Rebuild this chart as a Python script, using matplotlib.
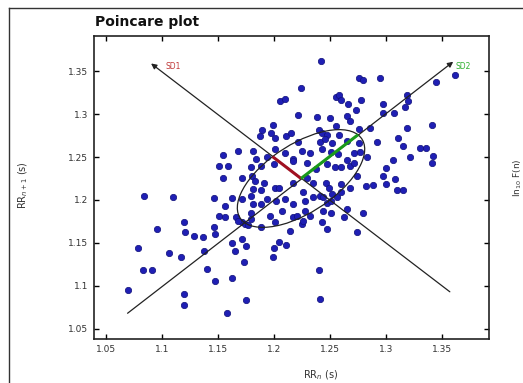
import matplotlib
matplotlib.use("Agg")
import matplotlib.pyplot as plt
from matplotlib.patches import Ellipse
from matplotlib.lines import Line2D
import numpy as np

rr_n = [
    1.242, 1.362, 1.345, 1.276, 1.279, 1.295, 1.224, 1.205, 1.210, 1.255, 1.258, 1.260, 1.266, 1.278,
    1.273, 1.297, 1.319, 1.320, 1.317, 1.221, 1.238, 1.250, 1.265, 1.268, 1.297, 1.307, 1.199, 1.189,
    1.197, 1.187, 1.211, 1.215, 1.240, 1.243, 1.247, 1.255, 1.258, 1.276, 1.286, 1.319, 1.341, 1.311,
    1.201, 1.221, 1.241, 1.245, 1.252, 1.265, 1.276, 1.292,
    1.154, 1.168, 1.181, 1.184, 1.194, 1.201, 1.210, 1.217, 1.225, 1.232, 1.243, 1.251, 1.257, 1.265,
    1.271, 1.277, 1.283, 1.306, 1.321, 1.330, 1.336, 1.342, 1.341, 1.315,
    1.151, 1.159, 1.179, 1.188, 1.200, 1.217, 1.229, 1.237, 1.247, 1.254, 1.260, 1.268, 1.271, 1.300,
    1.154, 1.171, 1.180, 1.183, 1.191, 1.181, 1.188, 1.201, 1.204, 1.217, 1.229, 1.235, 1.246, 1.249,
    1.260, 1.268, 1.274, 1.282, 1.288, 1.297, 1.300, 1.308, 1.310, 1.315,
    1.084, 1.110, 1.146, 1.162, 1.171, 1.179, 1.181, 1.188, 1.194, 1.202, 1.210, 1.217, 1.226, 1.228,
    1.235, 1.241, 1.244, 1.247, 1.252, 1.256, 1.260, 1.251,
    1.156, 1.179, 1.196, 1.207, 1.217, 1.220, 1.228, 1.232, 1.244, 1.251, 1.265, 1.279, 1.151, 1.156,
    1.166, 1.179, 1.171, 1.174,
    1.095, 1.119, 1.120, 1.128, 1.136, 1.146, 1.147, 1.168, 1.177, 1.188, 1.201, 1.214, 1.225, 1.226,
    1.243, 1.247, 1.262, 1.274,
    1.078, 1.106, 1.117, 1.137, 1.162, 1.165, 1.171, 1.175, 1.173, 1.083, 1.091, 1.140, 1.147, 1.162,
    1.199, 1.200, 1.204, 1.211, 1.240, 1.069, 1.119, 1.119, 1.175, 1.241, 1.158,
]
rr_n1 = [
    1.362, 1.345, 1.337, 1.342, 1.340, 1.342, 1.330, 1.315, 1.318, 1.320, 1.322, 1.316, 1.312, 1.317,
    1.305, 1.312, 1.322, 1.315, 1.308, 1.299, 1.297, 1.296, 1.298, 1.292, 1.301, 1.301, 1.287, 1.281,
    1.278, 1.275, 1.274, 1.278, 1.281, 1.278, 1.276, 1.286, 1.276, 1.283, 1.284, 1.284, 1.287, 1.272,
    1.2725, 1.267, 1.267, 1.2705, 1.2667, 1.2686, 1.2659, 1.2674,
    1.252, 1.257, 1.257, 1.248, 1.250, 1.259, 1.255, 1.248, 1.257, 1.255, 1.259, 1.256, 1.253, 1.247,
    1.255, 1.256, 1.250, 1.247, 1.250, 1.260, 1.260, 1.251, 1.243, 1.263,
    1.240, 1.240, 1.238, 1.240, 1.242, 1.245, 1.243, 1.236, 1.242, 1.238, 1.238, 1.240, 1.243, 1.237,
    1.226, 1.226, 1.228, 1.222, 1.220, 1.213, 1.212, 1.214, 1.214, 1.220, 1.226, 1.220, 1.220, 1.214,
    1.218, 1.214, 1.228, 1.216, 1.217, 1.228, 1.219, 1.224, 1.212, 1.212,
    1.205, 1.204, 1.202, 1.202, 1.201, 1.205, 1.195, 1.195, 1.201, 1.199, 1.201, 1.195, 1.209, 1.199,
    1.203, 1.205, 1.203, 1.197, 1.207, 1.203, 1.209, 1.199,
    1.193, 1.185, 1.181, 1.187, 1.180, 1.181, 1.187, 1.181, 1.187, 1.185, 1.189, 1.185, 1.181, 1.180,
    1.180, 1.178, 1.174, 1.172,
    1.166, 1.174, 1.163, 1.158, 1.157, 1.168, 1.160, 1.176, 1.171, 1.168, 1.174, 1.164, 1.172, 1.176,
    1.174, 1.166, 1.180, 1.163,
    1.144, 1.138, 1.134, 1.140, 1.150, 1.140, 1.154, 1.146, 1.128, 1.118, 1.118, 1.119, 1.106, 1.109,
    1.134, 1.144, 1.151, 1.148, 1.118, 1.095, 1.091, 1.078, 1.083, 1.085, 1.068,
]

center = (1.224, 1.225)
sd1 = 0.036
sd2 = 0.072
sd1_line = ([1.090, 1.357], [1.359, 1.093])
sd2_line = ([1.069, 1.360], [1.068, 1.361])

xticks = [1.05, 1.1, 1.15, 1.2, 1.25, 1.3, 1.35]
xtick_labels = ["1.05", "1.1", "1.15", "1.2", "1.25", "1.3", "1.35"]
yticks = [1.05, 1.1, 1.15, 1.2, 1.25, 1.3, 1.35]
ytick_labels = ["1.05", "1.1", "1.15", "1.2", "1.25", "1.3", "1.35"]

fig = plt.figure(figsize=(5.23, 3.83), dpi=100)
fig.patch.set_facecolor("white")

# outer frame (left and top edges visible)
fig.add_artist(Line2D([9 / 523, 9 / 523], [0, 1 - 8 / 383], transform=fig.transFigure,
                      color="#333333", lw=1.0))
fig.add_artist(Line2D([9 / 523, 1], [1 - 8 / 383, 1 - 8 / 383], transform=fig.transFigure,
                      color="#333333", lw=1.0))

ax = fig.add_axes([94 / 523, 1 - 339 / 383, 395 / 523, 303 / 383])
ax.set_xlim(1.039, 1.392)
ax.set_ylim(1.038, 1.391)

ax.scatter(rr_n, rr_n1, s=21, color="#1f1fb4", edgecolors="#10107a", linewidths=0.5, zorder=2)

# SD lines with arrows
ax.annotate("", xy=(sd1_line[0][0], sd1_line[1][0]), xytext=(sd1_line[0][1], sd1_line[1][1]),
            arrowprops=dict(arrowstyle="-|>", color="#222222", lw=0.9, mutation_scale=8,
                            shrinkA=0, shrinkB=0), zorder=3)
ax.annotate("", xy=(sd2_line[0][1], sd2_line[1][1]), xytext=(sd2_line[0][0], sd2_line[1][0]),
            arrowprops=dict(arrowstyle="-|>", color="#222222", lw=0.9, mutation_scale=8,
                            shrinkA=0, shrinkB=0), zorder=3)

ell = Ellipse(center, width=2 * sd2, height=2 * sd1, angle=45, fill=False,
              edgecolor="#222222", lw=0.9, zorder=3)
ax.add_patch(ell)

d = 1 / np.sqrt(2)
ax.plot([center[0], center[0] - sd1 * d], [center[1], center[1] + sd1 * d],
        color="#a01020", lw=2.2, zorder=4, solid_capstyle="butt")
ax.plot([center[0], center[0] + sd2 * d], [center[1], center[1] + sd2 * d],
        color="#1a9a1a", lw=2.2, zorder=4, solid_capstyle="butt")

ax.text(1.103, 1.355, "SD1", color="#c03838", fontsize=5.5, va="center", ha="left")
ax.text(1.3625, 1.355, "SD2", color="#30b030", fontsize=5.5, va="center", ha="left")

ax.set_xticks(xticks)
ax.set_xticklabels(xtick_labels)
ax.set_yticks(yticks)
ax.set_yticklabels(ytick_labels)
ax.tick_params(direction="in", top=True, right=True, length=3.5, width=1.0,
               labelsize=6.5, labelcolor="#333333", pad=4)
for s in ax.spines.values():
    s.set_linewidth(1.2)
    s.set_color("#222222")

ax.set_xlabel("RR$_n$ (s)", fontsize=7, color="#333333")
ax.xaxis.set_label_coords((321 - 94) / 395, (339 - 368) / 303)
ax.set_ylabel("RR$_{n+1}$ (s)", fontsize=7, color="#333333")
ax.yaxis.set_label_coords((30 - 94) / 395, (339 - 185) / 303)

fig.text(95 / 523, 1 - 22 / 383, "Poincare plot", fontsize=10, fontweight="bold",
         ha="left", va="center", color="#111111")

fig.text(512 / 523, 1 - 178 / 383, "ln$_{10}$ F(n)", fontsize=6.5, rotation=90,
         ha="left", va="center", color="#333333")

fig.savefig("out.png", dpi=100)
